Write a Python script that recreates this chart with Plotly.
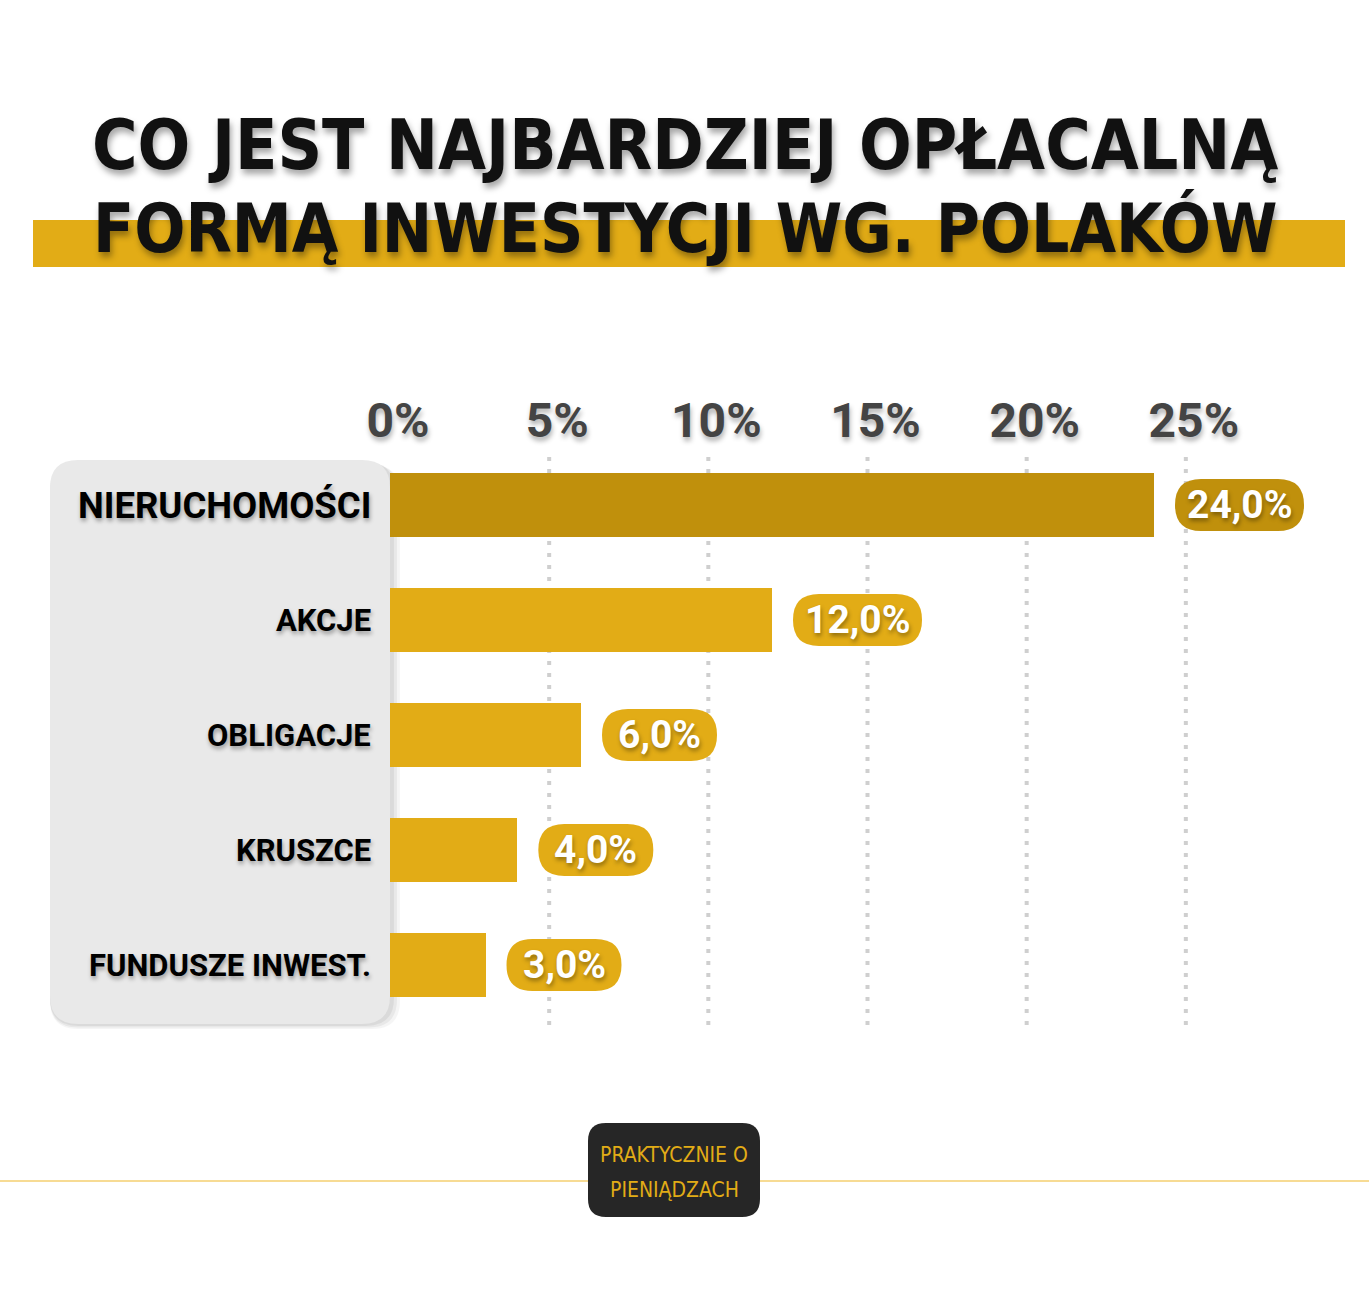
import plotly.graph_objects as go

W, H = 1369, 1300

categories = ["NIERUCHOMOŚCI", "AKCJE", "OBLIGACJE", "KRUSZCE", "FUNDUSZE INWEST."]
values = [24.0, 12.0, 6.0, 4.0, 3.0]
value_labels = ["24,0%", "12,0%", "6,0%", "4,0%", "3,0%"]
tick_vals = [0, 5, 10, 15, 20, 25]
tick_text = ["0%", "5%", "10%", "15%", "20%", "25%"]
grid_vals = [5, 10, 15, 20, 25]
title_lines = ["CO JEST NAJBARDZIEJ OPŁACALNĄ", "FORMĄ INWESTYCJI WG. POLAKÓW"]
logo_lines = ["PRAKTYCZNIE O", "PIENIĄDZACH"]

DARK = "#C0900C"
GOLD = "#E2AC16"
colors = [DARK] + [GOLD] * (len(values) - 1)

COND = "DejaVu Sans Condensed, DejaVu Sans, sans-serif"

idx = list(range(len(categories)))


def px(x):
    return x / W


def py(y):
    return 1 - y / H


def rr_path(x0, y0, x1, y1, r, fx=lambda v: v, fy=lambda v: v):
    pts = [
        ("M", x0 + r, y0),
        ("L", x1 - r, y0),
        ("Q", x1, y0, x1, y0 + r),
        ("L", x1, y1 - r),
        ("Q", x1, y1, x1 - r, y1),
        ("L", x0 + r, y1),
        ("Q", x0, y1, x0, y1 - r),
        ("L", x0, y0 + r),
        ("Q", x0, y0, x0 + r, y0),
    ]
    out = []
    for p in pts:
        nums = p[1:]
        conv = [f"{fx(nums[i]):.5f},{fy(nums[i+1]):.5f}" for i in range(0, len(nums), 2)]
        out.append(p[0] + " " + " ".join(conv))
    return " ".join(out) + " Z"


fig = go.Figure()

fig.add_trace(go.Bar(
    x=values, y=idx, orientation="h",
    marker=dict(color=colors, line=dict(width=0)),
    width=0.557, hoverinfo="skip",
))

shapes = []
# title band
shapes.append(dict(type="rect", xref="paper", yref="paper",
                   x0=px(33), x1=px(1345), y0=py(267), y1=py(220),
                   fillcolor=GOLD, line=dict(width=0), layer="below"))
# grid lines
for g in grid_vals:
    shapes.append(dict(type="line", xref="x", yref="paper", x0=g, x1=g,
                       y0=py(1025), y1=py(455),
                       line=dict(color="#cfcfcf", width=4, dash="4px,8px"),
                       layer="below"))
# panel shadow
for k, op in [(10, 0.04), (7, 0.05), (4, 0.06)]:
    shapes.append(dict(type="path", xref="paper", yref="paper",
                       path=rr_path(50, 460 + k / 2, 390 + k, 1024 + k / 2, 28, px, py),
                       fillcolor=f"rgba(0,0,0,{op})", line=dict(width=0), layer="below"))
# grey panel
shapes.append(dict(type="path", xref="paper", yref="paper",
                   path=rr_path(50, 460, 390, 1024, 28, px, py),
                   fillcolor="#E9E9E9", line=dict(width=0), layer="below"))
# value pills
for i, (v, lab, c) in enumerate(zip(values, value_labels, colors)):
    w = 129 if len(lab) >= 5 else 115
    shapes.append(dict(type="path", xref="x", yref="y",
                       xsizemode="pixel", xanchor=v,
                       ysizemode="pixel", yanchor=i,
                       path=rr_path(21, -26, 21 + w, 26, 26),
                       fillcolor=c, line=dict(width=0), layer="above"))
# bottom line
shapes.append(dict(type="line", xref="paper", yref="paper",
                   x0=0, x1=1, y0=py(1181), y1=py(1181),
                   line=dict(color="#F0B82A", width=1.2)))
# logo box
shapes.append(dict(type="path", xref="paper", yref="paper",
                   path=rr_path(588, 1123, 760, 1217, 18, px, py),
                   fillcolor="#262626", line=dict(width=0)))

annotations = []
# title
for line, yc, sz in zip(title_lines, [145, 229], [69, 67]):
    annotations.append(dict(text=line, xref="paper", yref="paper",
                            x=px(685), y=py(yc), xanchor="center", yanchor="middle",
                            showarrow=False,
                            font=dict(family=COND, size=sz,
                                      color="#111111", weight="bold",
                                      shadow="2px 5px 6px rgba(0,0,0,0.35)")))
# category labels
for i, cat in enumerate(categories):
    big = i == 0
    annotations.append(dict(text=cat, xref="paper", yref="y",
                            x=px(373), y=i, xanchor="right", yanchor="middle",
                            showarrow=False,
                            font=dict(family="Roboto", size=36.5 if big else 31,
                                      color="#000000", weight="bold",
                                      shadow="1px 3px 4px rgba(0,0,0,0.35)")))
# value labels
for i, (v, lab) in enumerate(zip(values, value_labels)):
    w = 129 if len(lab) >= 5 else 115
    annotations.append(dict(text=lab, xref="x", yref="y", x=v, y=i,
                            xanchor="center", yanchor="middle",
                            xshift=21 + w / 2, showarrow=False,
                            font=dict(family="Roboto", size=39, color="#FFFFFF",
                                      weight="bold",
                                      shadow="1px 3px 4px rgba(0,0,0,0.35)")))
# logo
for line, yc in zip(logo_lines, [1155, 1190]):
    annotations.append(dict(text=line, xref="paper", yref="paper",
                            x=px(674), y=py(yc), xanchor="center", yanchor="middle",
                            showarrow=False,
                            font=dict(family=COND, size=21, color="#E2AC16")))

fig.update_layout(
    width=W, height=H,
    margin=dict(l=0, r=0, t=0, b=0, autoexpand=False),
    paper_bgcolor="#FFFFFF", plot_bgcolor="rgba(0,0,0,0)",
    showlegend=False,
    shapes=shapes, annotations=annotations,
    bargap=0,
    xaxis=dict(domain=[px(390), px(1345)], range=[0, 30], side="top",
               tickvals=tick_vals, ticktext=tick_text, showgrid=False,
               zeroline=False, showline=False, ticks="", ticklabelshift=8,
               tickfont=dict(family="Roboto", size=48, color="#444444",
                             weight="bold",
                             shadow="1px 4px 5px rgba(0,0,0,0.3)"),
               fixedrange=True),
    yaxis=dict(domain=[py(1022.5), py(447.5)], range=[4.5, -0.5],
               showticklabels=False, showgrid=False, zeroline=False,
               showline=False, ticks="", fixedrange=True),
)

fig.write_html("out.html",
               config={"displayModeBar": False, "staticPlot": True},
               post_script="document.body.style.margin='0';document.body.style.overflow='hidden';")
